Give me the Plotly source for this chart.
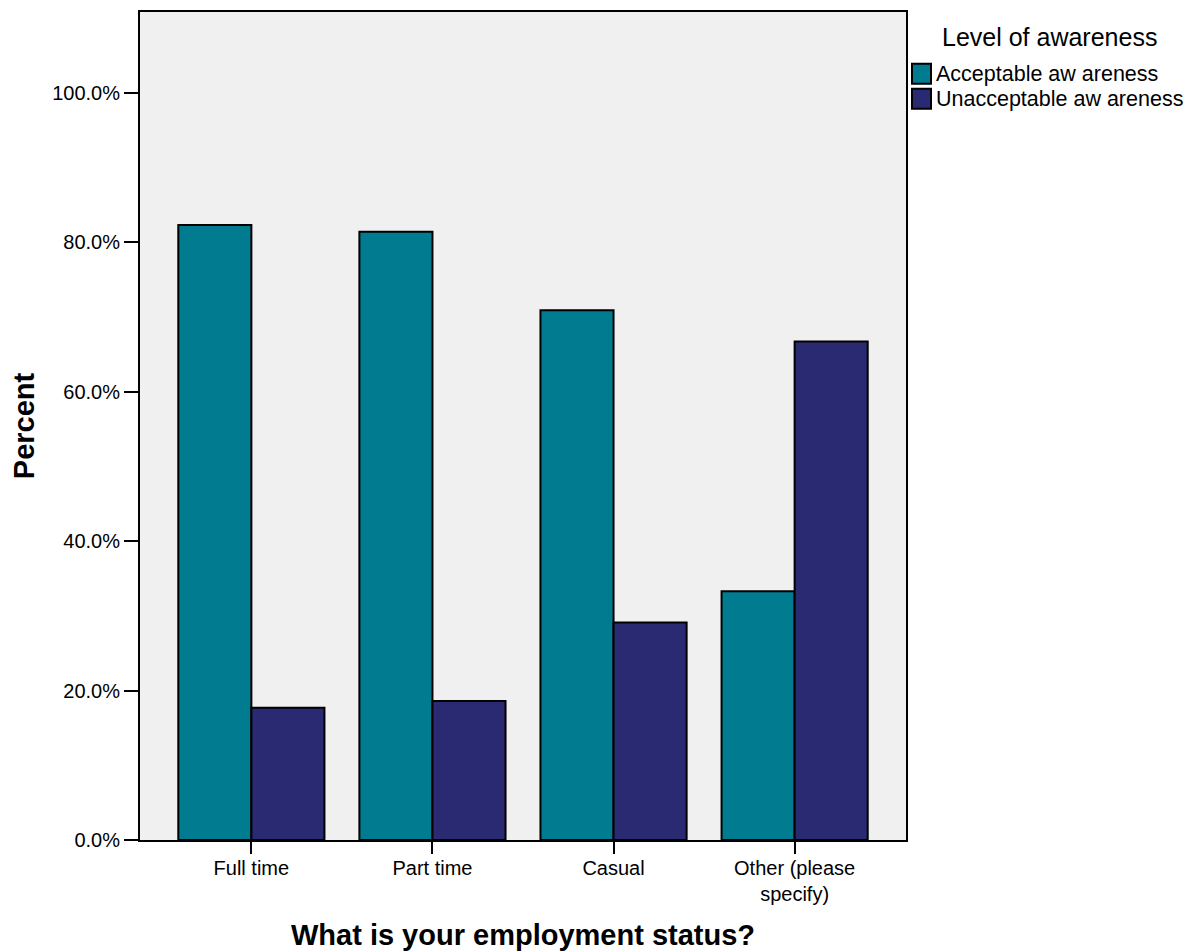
import plotly.graph_objects as go

categories = ["Full time", "Part time", "Casual", "Other (please<br>specify)"]
acceptable = [82.3, 81.4, 70.9, 33.3]
unacceptable = [17.7, 18.6, 29.1, 66.7]
series_names = ["Acceptable aw areness", "Unacceptable aw areness"]
legend_title = "Level of awareness"
y_ticks = [0, 20, 40, 60, 80, 100]
y_tick_labels = ["0.0%", "20.0%", "40.0%", "60.0%", "80.0%", "100.0%"]

teal = "#007B8F"
navy = "#2A2A73"
font = "Liberation Sans, Arial, sans-serif"

# page offset (body margin) of 8px
OFF = 8
L, T, R, B = 140 - OFF, 10 - OFF, 290, 111
W, H = 1196 - OFF, 951 - OFF
PW = 906 - 140
PH = 840 - 10

fig = go.Figure()
fig.add_trace(go.Bar(x=categories, y=acceptable, name=series_names[0],
                     marker=dict(color=teal, line=dict(color="black", width=2)),
                     showlegend=False))
fig.add_trace(go.Bar(x=categories, y=unacceptable, name=series_names[1],
                     marker=dict(color=navy, line=dict(color="black", width=2)),
                     showlegend=False))

fig.update_layout(
    width=W, height=H,
    margin=dict(l=L, r=R, t=T, b=B, pad=0),
    paper_bgcolor="white", plot_bgcolor="#F0F0F0",
    barmode="group", bargap=0.193, bargroupgap=0,
    font=dict(family=font, color="black", size=20),
)
fig.update_xaxes(range=[-0.615, 3.615], showline=True, linecolor="black", linewidth=2,
                 mirror=True, ticks="outside", ticklen=12, tickwidth=2, tickcolor="black",
                 tickfont=dict(size=20), showgrid=False, ticklabelstandoff=-3,
                 title=dict(text="<b>What is your employment status?</b>", font=dict(size=29), standoff=24))
fig.update_yaxes(range=[0, 110.8], showline=True, linecolor="black", linewidth=2,
                 mirror=True, ticks="outside", ticklen=14, tickwidth=2, tickcolor="black",
                 tickvals=y_ticks, ticktext=y_tick_labels, tickfont=dict(size=20),
                 showgrid=False, zeroline=False,
                 title=dict(text="<b>Percent</b>", font=dict(size=29), standoff=14))

# manual legend (positions relative to the plot area)
def px(x):
    return (x - 140) / PW

def py(y):
    return (840 - y) / PH

fig.add_annotation(xref="paper", yref="paper", x=px(1049), y=py(35),
                   text=legend_title, showarrow=False, xanchor="center", yanchor="middle",
                   font=dict(size=25))
for i, (name, col) in enumerate(zip(series_names, [teal, navy])):
    yc = 72 + i * 25
    fig.add_shape(type="rect", xref="paper", yref="paper",
                  x0=px(912), x1=px(931), y0=py(yc - 10), y1=py(yc + 10),
                  fillcolor=col, line=dict(color="black", width=2))
    fig.add_annotation(xref="paper", yref="paper", x=px(934), y=py(yc), xshift=0,
                       text=name, showarrow=False, xanchor="left", yanchor="middle",
                       font=dict(size=21.5))

fig.write_html("out.html")
